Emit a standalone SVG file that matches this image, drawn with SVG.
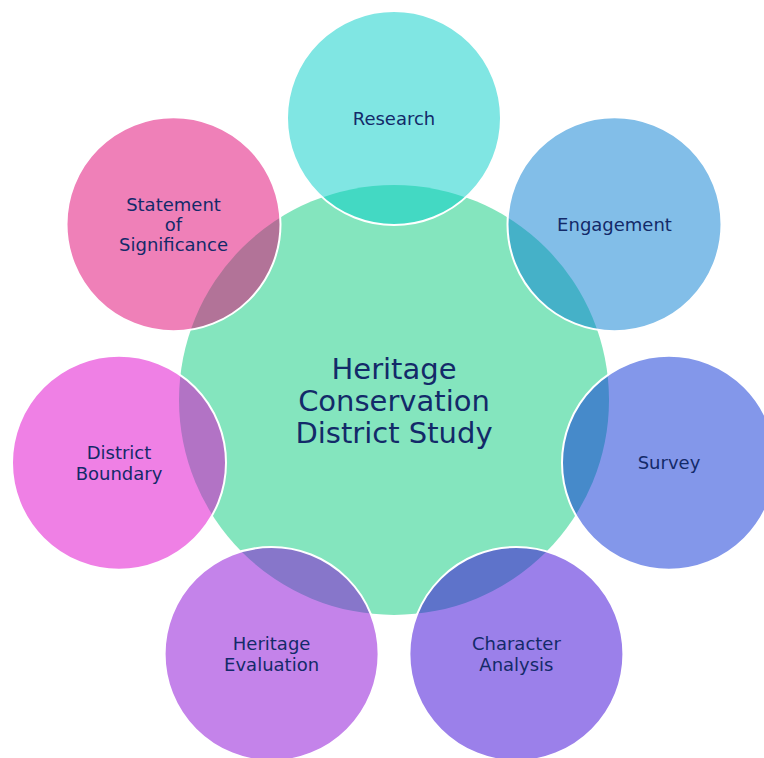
<svg xmlns="http://www.w3.org/2000/svg" width="764" height="758" viewBox="0 0 764 758">
<style>
.outer{fill-opacity:0.5;stroke:#ffffff;stroke-width:2}
.lbl{font-family:"DejaVu Sans",Verdana,sans-serif;font-size:18px;fill:#132a69;text-anchor:middle}
.ctr{font-family:"DejaVu Sans",Verdana,sans-serif;font-size:29px;fill:#132a69;text-anchor:middle}
</style>
<rect width="764" height="758" fill="#ffffff"/>
<g id="center">
<circle cx="394" cy="400" r="215" fill="#84e5be"/>
</g>
<g id="connectors"></g>
<g id="research">
<circle class="outer" cx="394" cy="118" r="107" fill="#01cdc7"/>
</g>
<g id="engagement">
<circle class="outer" cx="614.5" cy="224.2" r="107" fill="#057dd1"/>
</g>
<g id="survey">
<circle class="outer" cx="669" cy="462.7" r="107" fill="#072fd5"/>
</g>
<g id="character-analysis">
<circle class="outer" cx="516.4" cy="654" r="107" fill="#3701d5"/>
</g>
<g id="heritage-evaluation">
<circle class="outer" cx="271.6" cy="654" r="107" fill="#8907d5"/>
</g>
<g id="district-boundary">
<circle class="outer" cx="119" cy="462.7" r="107" fill="#df01cb"/>
</g>
<g id="statement-of-significance">
<circle class="outer" cx="173.5" cy="224.2" r="107" fill="#df0171"/>
</g>
<g id="labels">
<text class="ctr" x="394" y="378.5">Heritage</text>
<text class="ctr" x="394" y="410.5">Conservation</text>
<text class="ctr" x="394" y="442.5">District Study</text>
<text class="lbl" x="394" y="124.5">Research</text>
<text class="lbl" x="614.5" y="230.5">Engagement</text>
<text class="lbl" x="669" y="469">Survey</text>
<text class="lbl" x="516.4" y="650">Character</text>
<text class="lbl" x="516.4" y="671">Analysis</text>
<text class="lbl" x="271.6" y="650">Heritage</text>
<text class="lbl" x="271.6" y="671">Evaluation</text>
<text class="lbl" x="119" y="458.5">District</text>
<text class="lbl" x="119" y="479.5">Boundary</text>
<text class="lbl" x="173.5" y="210.5">Statement</text>
<text class="lbl" x="173.5" y="230.5">of</text>
<text class="lbl" x="173.5" y="250.5">Significance</text>
</g>
</svg>
